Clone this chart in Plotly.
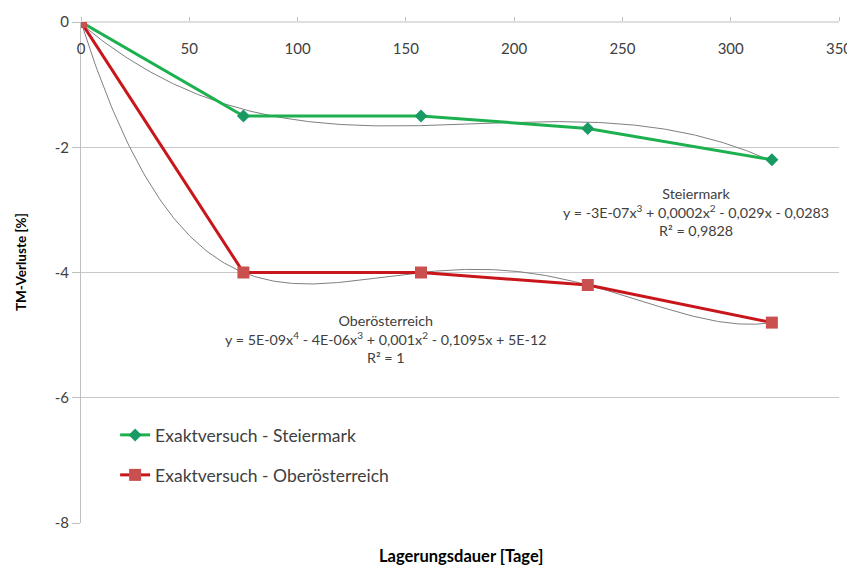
import numpy as np
import plotly.graph_objects as go

days = [0, 75, 157, 234, 319]
steiermark = [0, -1.5, -1.5, -1.7, -2.2]
oberoesterreich = [0, -4.0, -4.0, -4.2, -4.8]

x_ticks = [0, 50, 100, 150, 200, 250, 300, 350]
y_ticks = [0, -2, -4, -6, -8]
y_ticktext = ["0", "-2", "-4", "-6", "-8"]

FONT = "Lato"

# trend lines (polynomial fits of the data, as Excel does)
xs = np.linspace(0, 319, 300)
p_st = np.polyfit(days, steiermark, 3)
p_oo = np.polyfit(days, oberoesterreich, 4)

fig = go.Figure()
fig.add_trace(go.Scatter(x=xs, y=np.polyval(p_st, xs), mode="lines",
                         line=dict(color="#7f7f7f", width=1), showlegend=False, hoverinfo="skip"))
fig.add_trace(go.Scatter(x=xs, y=np.polyval(p_oo, xs), mode="lines",
                         line=dict(color="#7f7f7f", width=1), showlegend=False, hoverinfo="skip"))
fig.add_trace(go.Scatter(x=days, y=steiermark, mode="lines+markers",
                         name="Exaktversuch - Steiermark", legend="legend",
                         line=dict(color="#1db04f", width=3),
                         marker=dict(symbol="diamond", size=10, color="#1a9a63")))
fig.add_trace(go.Scatter(x=days, y=oberoesterreich, mode="lines+markers",
                         name="Exaktversuch - Oberösterreich", legend="legend2",
                         line=dict(color="#c8161b", width=3),
                         marker=dict(symbol="square", size=12, color="#c9504f")))

leg_common = dict(xanchor="left", yanchor="middle", bgcolor="rgba(0,0,0,0)",
                  font=dict(size=17.5, color="#404040"), itemwidth=30)

# plot area: 758 x 501 px
fig.update_layout(
    width=847, height=561,
    margin=dict(l=73, r=16, t=14, b=46),
    paper_bgcolor="white", plot_bgcolor="white",
    font=dict(family=FONT, size=15, color="#404040"),
    legend=dict(x=0.045, y=(523 - 435) / 501, **leg_common),
    legend2=dict(x=0.045, y=(523 - 475) / 501, **leg_common),
    xaxis=dict(range=[0, 350], side="top", tickvals=x_ticks, ticklabelposition="inside",
               ticklabeloverflow="allow", ticklabelstandoff=18, automargin=False,
               showgrid=False, zeroline=False, showline=False,
               ticks="outside", ticklen=4, tickcolor="#bfbfbf",
               tickfont=dict(size=15, color="#404040")),
    yaxis=dict(range=[-8, 0], tickvals=y_ticks, ticktext=y_ticktext, showgrid=True,
               gridcolor="#c8c8c8", automargin=False, ticklabeloverflow="allow",
               zeroline=False, showline=True, linecolor="#bfbfbf", linewidth=1,
               ticks="outside", ticklen=8, tickcolor="#bfbfbf",
               tickfont=dict(size=15, color="#404040")),
)

# top axis line at y=0
fig.add_shape(type="line", xref="paper", yref="paper", x0=0, x1=1, y0=1, y1=1,
              line=dict(color="#bfbfbf", width=1), layer="below")

fig.add_annotation(x=(461 - 81) / 758, y=(523 - 556) / 501, xref="paper", yref="paper",
                   text="<b>Lagerungsdauer [Tage]</b>", showarrow=False,
                   font=dict(size=16.5, color="#000000"), xanchor="center", yanchor="middle")
fig.add_annotation(x=(21 - 81) / 758, y=(523 - 262) / 501, xref="paper", yref="paper",
                   text="<b>TM-Verluste [%]</b>", showarrow=False, textangle=-90,
                   font=dict(size=13.5, color="#000000"), xanchor="center", yanchor="middle")

fig.add_annotation(x=284, y=-3.03, xref="x", yref="y", showarrow=False,
                   text="Steiermark<br>y = -3E-07x<sup>3</sup> + 0,0002x<sup>2</sup> - 0,029x - 0,0283<br>R² = 0,9828",
                   align="center", font=dict(size=14.3, color="#404040"))
fig.add_annotation(x=141, y=-5.06, xref="x", yref="y", showarrow=False,
                   text="Oberösterreich<br>y = 5E-09x<sup>4</sup> - 4E-06x<sup>3</sup> + 0,001x<sup>2</sup> - 0,1095x + 5E-12<br>R² = 1",
                   align="center", font=dict(size=14.3, color="#404040"))

fig.write_html("out.html")
